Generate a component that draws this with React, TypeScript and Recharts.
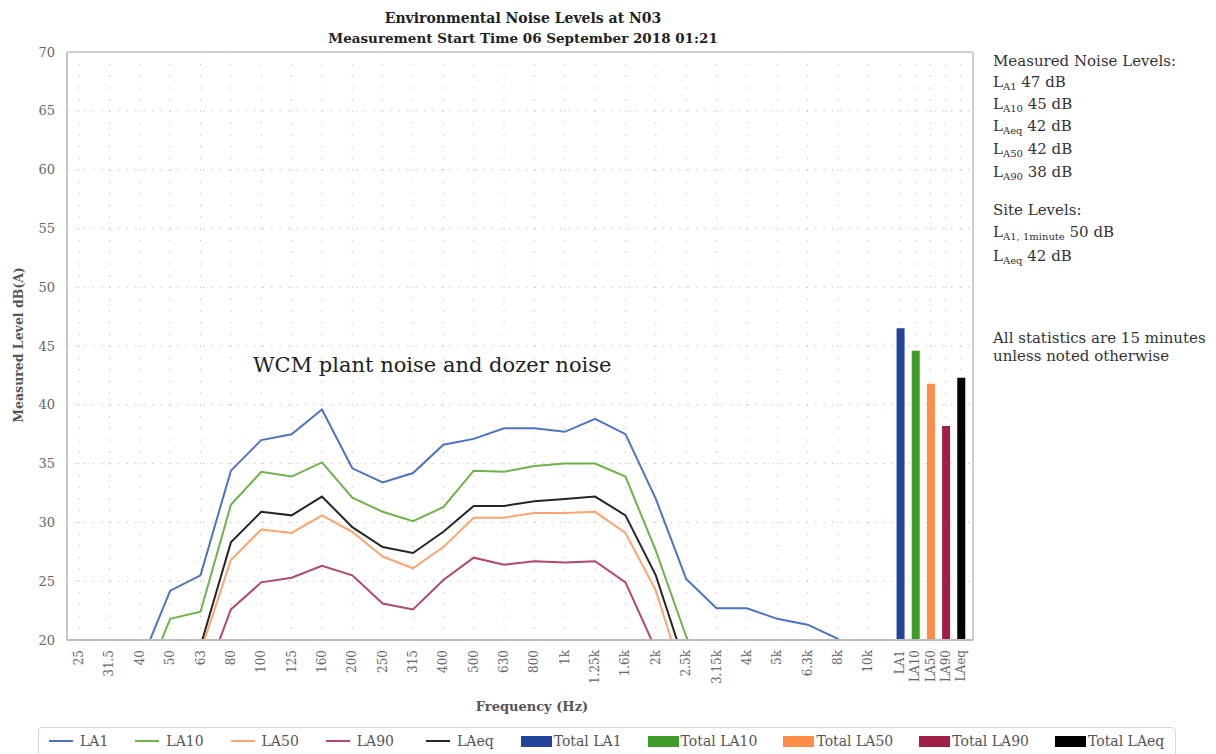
import React from 'react';
import {
  ComposedChart, Line, Bar, Cell, XAxis, YAxis, CartesianGrid, ReferenceLine,
} from 'recharts';

const freqLabels = ['25','31.5','40','50','63','80','100','125','160','200','250','315','400','500','630','800','1k','1.25k','1.6k','2k','2.5k','3.15k','4k','5k','6.3k','8k','10k'];
const la1 = [null, null, 17.9, 24.2, 25.5, 34.4, 37.0, 37.5, 39.6, 34.6, 33.4, 34.2, 36.6, 37.1, 38.0, 38.0, 37.7, 38.8, 37.5, 32.0, 25.2, 22.7, 22.7, 21.8, 21.3, 20.1, 17.0];
const la10 = [null, null, 15.5, 21.8, 22.4, 31.5, 34.3, 33.9, 35.1, 32.1, 30.9, 30.1, 31.3, 34.4, 34.3, 34.8, 35.0, 35.0, 33.9, 27.6, 20.3, 15.0, null, null, null, null, null];
const la50 = [null, null, null, null, 19.0, 26.8, 29.4, 29.1, 30.6, 29.2, 27.1, 26.1, 27.9, 30.4, 30.4, 30.8, 30.8, 30.9, 29.1, 24.2, 16.0, null, null, null, null, null, null];
const la90 = [null, null, null, null, 15.7, 22.6, 24.9, 25.3, 26.3, 25.5, 23.1, 22.6, 25.1, 27.0, 26.4, 26.7, 26.6, 26.7, 24.9, 19.2, null, null, null, null, null, null, null];
const laeq = [null, null, null, null, 19.5, 28.3, 30.9, 30.6, 32.2, 29.6, 27.9, 27.4, 29.2, 31.4, 31.4, 31.8, 32.0, 32.2, 30.6, 25.5, 17.6, null, null, null, null, null, null];

const totalLabels = ['LA1', 'LA10', 'LA50', 'LA90', 'LAeq'];
const totalValues = [46.5, 44.6, 41.8, 38.2, 42.3];

const yTicks = [20, 25, 30, 35, 40, 45, 50, 55, 60, 65, 70];

const lineColors = ['#4d72c4', '#6eb24a', '#ffa46e', '#b24770', '#262626'];
const barColors = ['#22449a', '#3f9c2a', '#ff8d47', '#9f1f47', '#000000'];
const seriesKeys = ['LA1', 'LA10', 'LA50', 'LA90', 'LAeq'];
const seriesData = [la1, la10, la50, la90, laeq];

// build the table: frequencies at integer positions, totals at half-steps after 10k
const BAR_START = 27.05;
const BAR_STEP = 0.5;
const data: any[] = [];
freqLabels.forEach((f, i) => {
  const row: any = { x: i, label: f };
  seriesKeys.forEach((k, s) => { row[k] = seriesData[s][i]; });
  data.push(row);
});
totalLabels.forEach((t, k) => {
  data.push({ x: BAR_START + BAR_STEP * k, label: t, total: totalValues[k], color: barColors[k] });
});
const xTicks = data.map((d) => d.x);
const labelOf = (v: number) => {
  const r = data.find((d) => Math.abs(d.x - v) < 1e-6);
  return r ? r.label : '';
};
const minorTicks: number[] = [];
for (let v = 20; v <= 70; v++) minorTicks.push(v);

const XTick = (props: any) => {
  const { x, y, payload } = props;
  return (
    <text x={x} y={y} transform={`rotate(-90 ${x} ${y})`} textAnchor="end" dominantBaseline="central" fill="#666" fontSize={12}>
      {labelOf(payload.value)}
    </text>
  );
};
const NoTick = () => <g />;

const legendItems = [
  ...seriesKeys.map((k, i) => ({ name: k, color: lineColors[i], type: 'line' })),
  ...totalLabels.map((k, i) => ({ name: 'Total ' + k, color: barColors[i], type: 'rect' })),
];

const rightText: React.CSSProperties = { position: 'absolute', left: 985, fontSize: 15, color: '#333', whiteSpace: 'nowrap', lineHeight: '18px' };
const subS: React.CSSProperties = { fontSize: 10, verticalAlign: 'baseline', position: 'relative', top: 3 };

export default function App() {
  return (
    <div style={{ position: 'relative', width: 1200, height: 746, fontFamily: '"DejaVu Serif", serif', overflow: 'hidden' }}>
      <div style={{ position: 'absolute', left: 0, width: 1030, top: 0, textAlign: 'center', fontWeight: 'bold', fontSize: 13.5, lineHeight: '20px', color: '#222' }}>
        <div style={{ fontSize: 14 }}>Environmental Noise Levels at N03</div>
        <div>Measurement Start Time 06 September 2018 01:21</div>
      </div>
      <ComposedChart width={1200} height={746} data={data} margin={{ top: 44, right: 235, left: 0, bottom: 0 }}>
        <CartesianGrid horizontal={false} stroke="#c4c4c4" strokeDasharray="1.5 10.24" />
        <CartesianGrid vertical={false} stroke="#c4c4c4" strokeDasharray="1.5 7" />
        <XAxis
          dataKey="x"
          type="number"
          domain={[-0.4, 29.45]}
          ticks={xTicks}
          interval={0}
          allowDataOverflow
          height={114}
          tickLine={false}
          tickMargin={4}
          axisLine={{ stroke: '#bdbdbd', strokeWidth: 2 }}
          tick={<XTick />}
        />
        <YAxis
          domain={[20, 70]}
          ticks={yTicks}
          allowDataOverflow
          width={59}
          tickLine={false}
          tickMargin={6}
          axisLine={{ stroke: '#c6c6c6', strokeWidth: 2 }}
          tick={{ fill: '#666', fontSize: 13 }}
        />
        <YAxis
          yAxisId="minor"
          domain={[20, 70]}
          ticks={minorTicks}
          interval={0}
          allowDataOverflow
          width={0}
          mirror
          tickSize={3}
          axisLine={false}
          tickLine={{ stroke: '#bbb' }}
          tick={<NoTick />}
        />
        <ReferenceLine y={70} stroke="#cfcfcf" strokeWidth={2} />
        <ReferenceLine x={29.45} stroke="#cfcfcf" strokeWidth={2} />
        {seriesKeys.map((k, i) => (
          <Line key={k} dataKey={k} type="linear" stroke={lineColors[i]} strokeWidth={2} dot={false} activeDot={false} isAnimationActive={false} />
        ))}
        <Bar dataKey="total" barSize={8} isAnimationActive={false}>
          {data.map((d, i) => <Cell key={i} fill={d.color || 'transparent'} />)}
        </Bar>
      </ComposedChart>

      <div style={{ position: 'absolute', left: 245, top: 345, fontSize: 21, color: '#222', whiteSpace: 'nowrap' }}>
        WCM plant noise and dozer noise
      </div>

      <div style={{ position: 'absolute', left: 10, top: 337, transform: 'translate(-50%, -50%) rotate(-90deg)', fontSize: 12.5, fontWeight: 'bold', color: '#555', whiteSpace: 'nowrap' }}>
        Measured Level dB(A)
      </div>
      <div style={{ position: 'absolute', left: 524, top: 698, transform: 'translate(-50%, -50%)', fontSize: 13, fontWeight: 'bold', color: '#555', whiteSpace: 'nowrap' }}>
        Frequency (Hz)
      </div>

      <div style={{ ...rightText, top: 44 }}>Measured Noise Levels:</div>
      <div style={{ ...rightText, top: 65 }}>L<span style={subS}>A1</span> 47 dB</div>
      <div style={{ ...rightText, top: 87 }}>L<span style={subS}>A10</span> 45 dB</div>
      <div style={{ ...rightText, top: 109 }}>L<span style={subS}>Aeq</span> 42 dB</div>
      <div style={{ ...rightText, top: 132 }}>L<span style={subS}>A50</span> 42 dB</div>
      <div style={{ ...rightText, top: 155 }}>L<span style={subS}>A90</span> 38 dB</div>
      <div style={{ ...rightText, top: 193 }}>Site Levels:</div>
      <div style={{ ...rightText, top: 215 }}>L<span style={subS}>A1, 1minute</span> 50 dB</div>
      <div style={{ ...rightText, top: 239 }}>L<span style={subS}>Aeq</span> 42 dB</div>
      <div style={{ ...rightText, top: 321 }}>All statistics are 15 minutes</div>
      <div style={{ ...rightText, top: 339 }}>unless noted otherwise</div>

      <div style={{ position: 'absolute', left: 30, top: 719, width: 1138, height: 40, border: '1px solid #d9d9d9', borderRadius: 4, boxSizing: 'border-box', display: 'flex', alignItems: 'flex-start', paddingTop: 5, paddingLeft: 10 }}>
        {legendItems.map((it, idx) => (
          <div key={it.name} style={{ display: 'flex', alignItems: 'center', marginRight: it.type === 'line' ? (idx === 3 ? 32 : 27) : 26, fontSize: 14, color: '#555', whiteSpace: 'nowrap' }}>
            {it.type === 'line'
              ? <span style={{ display: 'inline-block', width: 24, height: 2.5, background: it.color, marginRight: 7 }} />
              : <span style={{ display: 'inline-block', width: 31, height: 11, background: it.color, marginRight: 2 }} />}
            <span>{it.name}</span>
          </div>
        ))}
      </div>
    </div>
  );
}
